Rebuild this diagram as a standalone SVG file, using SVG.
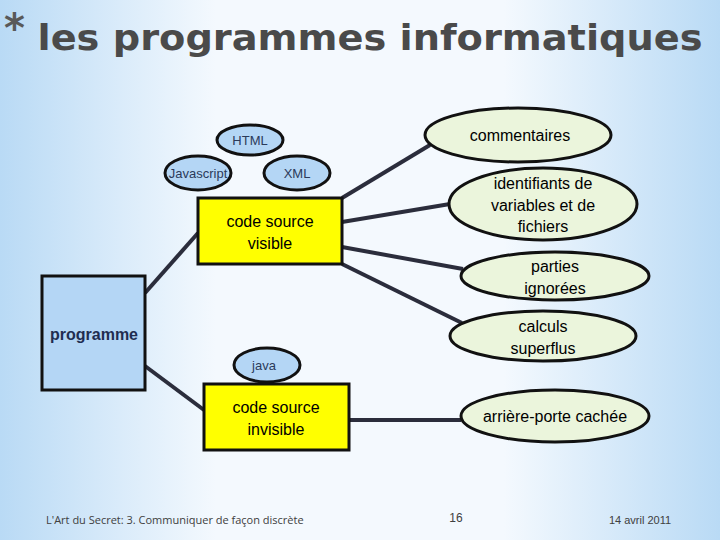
<svg xmlns="http://www.w3.org/2000/svg" width="720" height="540" viewBox="0 0 720 540">
<defs>
<linearGradient id="bg" x1="0" y1="0" x2="1" y2="0">
<stop offset="0" stop-color="#b9daf5"/><stop offset="0.3" stop-color="#f4f9fe"/><stop offset="0.7" stop-color="#f4f9fe"/><stop offset="1" stop-color="#b9daf5"/>
</linearGradient>
<style>
.t{font-family:"Liberation Sans",Arial,sans-serif;text-anchor:middle}
.b{fill:#b4d6f5;stroke:#111;stroke-width:3}
.g{fill:#ebf5dc;stroke:#111;stroke-width:3}
.y{fill:#ffff00;stroke:#111;stroke-width:3}
.c{stroke:#2b2d3c;stroke-width:4;fill:none}
</style>
</defs>
<rect width="720" height="540" fill="url(#bg)"/>
<text x="4" y="42" font-family="'DejaVu Sans',sans-serif" font-size="40" font-weight="bold" fill="#595959">*</text>
<text x="370" y="50" class="t" font-family="'DejaVu Sans',sans-serif" font-size="36" font-weight="bold" fill="#4a4a4a" textLength="665" lengthAdjust="spacingAndGlyphs" style="font-family:'DejaVu Sans',sans-serif">les programmes informatiques</text>
<g id="connectors" class="c">
<line x1="342" y1="198" x2="430" y2="145"/>
<line x1="342" y1="222" x2="450" y2="204"/>
<line x1="342" y1="247" x2="463" y2="269"/>
<line x1="342" y1="264" x2="462" y2="323"/>
<line x1="145" y1="293" x2="198" y2="233"/>
<line x1="145" y1="366" x2="204" y2="410"/>
<line x1="349" y1="420" x2="461" y2="420"/>
</g>
<g id="programme"><rect class="b" x="42" y="276" width="103" height="114"/><text class="t" x="94" y="340" font-size="16" font-weight="bold" fill="#1f2d50">programme</text></g>
<g id="visible"><rect class="y" x="198" y="198" width="144" height="66"/><text class="t" x="270" y="227" font-size="16">code source</text><text class="t" x="270" y="249" font-size="16">visible</text></g>
<g id="invisible"><rect class="y" x="204" y="384" width="145" height="66"/><text class="t" x="276" y="413" font-size="16">code source</text><text class="t" x="276" y="435" font-size="16">invisible</text></g>
<g id="html"><ellipse class="b" cx="250" cy="140" rx="33" ry="15"/><text class="t" x="250" y="145" font-size="13" fill="#2b3a5a">HTML</text></g>
<g id="js"><ellipse class="b" cx="198" cy="173" rx="33" ry="17"/><text class="t" x="198" y="178" font-size="13" fill="#2b3a5a">Javascript</text></g>
<g id="xml"><ellipse class="b" cx="297" cy="173" rx="33" ry="17"/><text class="t" x="297" y="178" font-size="13" fill="#2b3a5a">XML</text></g>
<g id="java"><ellipse class="b" cx="267" cy="365" rx="33" ry="17"/><text class="t" x="264" y="370" font-size="13" fill="#2b3a5a">java</text></g>
<g id="commentaires"><ellipse class="g" cx="518" cy="135" rx="93" ry="27"/><text class="t" x="520" y="141" font-size="16">commentaires</text></g>
<g id="identifiants"><ellipse class="g" cx="543" cy="204" rx="94" ry="36"/><text class="t" x="543" y="189" font-size="16">identifiants de</text><text class="t" x="543" y="211" font-size="16">variables et de</text><text class="t" x="543" y="232" font-size="16">fichiers</text></g>
<g id="parties"><ellipse class="g" cx="555" cy="276" rx="94" ry="24"/><text class="t" x="555" y="272" font-size="16">parties</text><text class="t" x="555" y="294" font-size="16">ignorées</text></g>
<g id="calculs"><ellipse class="g" cx="543" cy="336" rx="93" ry="25"/><text class="t" x="543" y="332" font-size="16">calculs</text><text class="t" x="543" y="354" font-size="16">superflus</text></g>
<g id="arriere"><ellipse class="g" cx="555" cy="416" rx="94" ry="26"/><text class="t" x="555" y="422" font-size="16">arrière-porte cachée</text></g>
<text x="46" y="524" font-family="'Open Sans',sans-serif" font-size="11" fill="#404040">L'Art du Secret:  3. Communiquer de façon discrète</text>
<text x="456" y="522" class="t" font-family="'Open Sans',sans-serif" font-size="12" fill="#404040">16</text>
<text x="640" y="524" class="t" font-family="'Open Sans',sans-serif" font-size="11" fill="#404040">14 avril 2011</text>
</svg>
